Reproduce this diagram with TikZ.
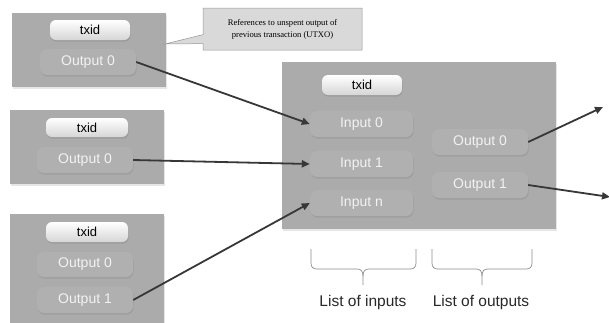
\documentclass[tikz,border=0pt]{standalone}
\usepackage{fontspec}
\setmainfont{Liberation Sans}
\newfontfamily\notefont{Liberation Serif}
\usetikzlibrary{shadows,shapes.callouts,arrows.meta}

\definecolor{boxgray}{RGB}{171,171,171}
\definecolor{pillgray}{RGB}{176,176,176}
\definecolor{pilltext}{RGB}{242,242,242}
\definecolor{idbot}{RGB}{214,214,214}
\definecolor{notefill}{RGB}{217,217,217}
\definecolor{noteline}{RGB}{150,150,150}
\definecolor{arrowc}{RGB}{55,55,55}
\definecolor{bracec}{RGB}{140,140,140}
\definecolor{labelc}{RGB}{40,40,40}

\tikzset{
  txbox/.style={fill=boxgray, draw=none, inner sep=0pt,
    drop shadow={opacity=0.2, shadow xshift=1pt, shadow yshift=-1.5pt}},
  pill/.style={fill=pillgray, draw=none, rounded corners=7pt, text=pilltext,
    font=\fontsize{14}{16}\selectfont, inner sep=0pt, minimum height=26pt,
    minimum width=96pt,
    drop shadow={opacity=0.3, shadow xshift=0.6pt, shadow yshift=-1.6pt}},
  idpill/.style={top color=white, bottom color=idbot, draw=none, rounded corners=6pt,
    text=black, font=\fontsize{13}{15}\selectfont, inner sep=0pt,
    minimum height=20pt, minimum width=80pt,
    drop shadow={opacity=0.35, shadow xshift=0.6pt, shadow yshift=-1.6pt}},
  link/.style={draw=arrowc, line width=1.8pt,
    -{Triangle[length=8pt,width=7pt]}},
  bracket/.style={draw=bracec, line width=0.7pt},
  listlabel/.style={text=labelc, font=\fontsize{15.5}{18}\selectfont, inner sep=0pt},
}

\begin{document}
\begin{tikzpicture}[x=1pt,y=-1pt]
\useasboundingbox (0,0) rectangle (609,322);
\clip (0,0) rectangle (609,322);

% previous transactions
\node[txbox, minimum width=154pt, minimum height=74pt] (boxA) at (89,50) {};
\node[idpill] (idA) at (90,30) {txid};
\node[pill] (outA0) at (88,62) {Output 0};

\node[txbox, minimum width=154pt, minimum height=74pt] (boxB) at (87,147) {};
\node[idpill, minimum width=82pt, minimum height=19pt] (idB) at (87,127.5) {txid};
\node[pill] (outB0) at (85,160) {Output 0};

\node[txbox, minimum width=154pt, minimum height=116pt] (boxC) at (87,272) {};
\node[idpill, minimum width=82pt] (idC) at (87,232) {txid};
\node[pill, minimum height=25pt] (outC0) at (85,264.5) {Output 0};
\node[pill] (outC1) at (85,300) {Output 1};

% callout note
\node[rectangle callout, fill=notefill, draw=noteline, line width=0.5pt,
  minimum width=159pt, minimum height=42pt, inner sep=0pt, align=center,
  callout absolute pointer={(165,44)}, callout pointer width=9pt,
  font=\notefont\fontsize{8.6}{12}\selectfont] (note) at (282.5,29)
  {References to unspent output of\\previous transaction (UTXO)};

% new transaction
\node[txbox, minimum width=274pt, minimum height=167pt] (main) at (419,145.5) {};
\node[idpill] (idM) at (362,85) {txid};
\node[pill, minimum width=103pt] (in0) at (361.5,124) {Input 0};
\node[pill, minimum width=103pt] (in1) at (361.5,164) {Input 1};
\node[pill, minimum width=103pt] (inn) at (361.5,203) {Input n};
\node[pill] (mout0) at (480,142) {Output 0};
\node[pill] (mout1) at (480,185) {Output 1};

% connectors
\coordinate (far0) at (603,107);
\coordinate (far1) at (610,197);
\draw[link] (outA0.east) -- (in0.west);
\draw[link] (outB0.east) -- (in1.west);
\draw[link] (outC1.east) -- (inn.west);
\draw[link] (mout0.east) -- (far0);
\draw[link] (mout1.east) -- (far1);

% braces and their labels
\draw[bracket] (311,249) -- (311,263) .. controls (311,267) and (313,269) .. (317,269)
  -- (357,269) .. controls (361,269) and (363,271) .. (363,276) -- (363,285);
\draw[bracket] (416,249) -- (416,263) .. controls (416,267) and (414,269) .. (410,269)
  -- (369,269) .. controls (365,269) and (363,271) .. (363,276);
\draw[bracket] (432,249) -- (432,263) .. controls (432,267) and (434,269) .. (438,269)
  -- (476,269) .. controls (480,269) and (482,271) .. (482,276) -- (482,285);
\draw[bracket] (532,249) -- (532,263) .. controls (532,267) and (530,269) .. (526,269)
  -- (488,269) .. controls (484,269) and (482,271) .. (482,276);

\node[listlabel] (lin) at (363,302) {List of inputs};
\node[listlabel] (lout) at (481,302) {List of outputs};
\end{tikzpicture}
\end{document}
